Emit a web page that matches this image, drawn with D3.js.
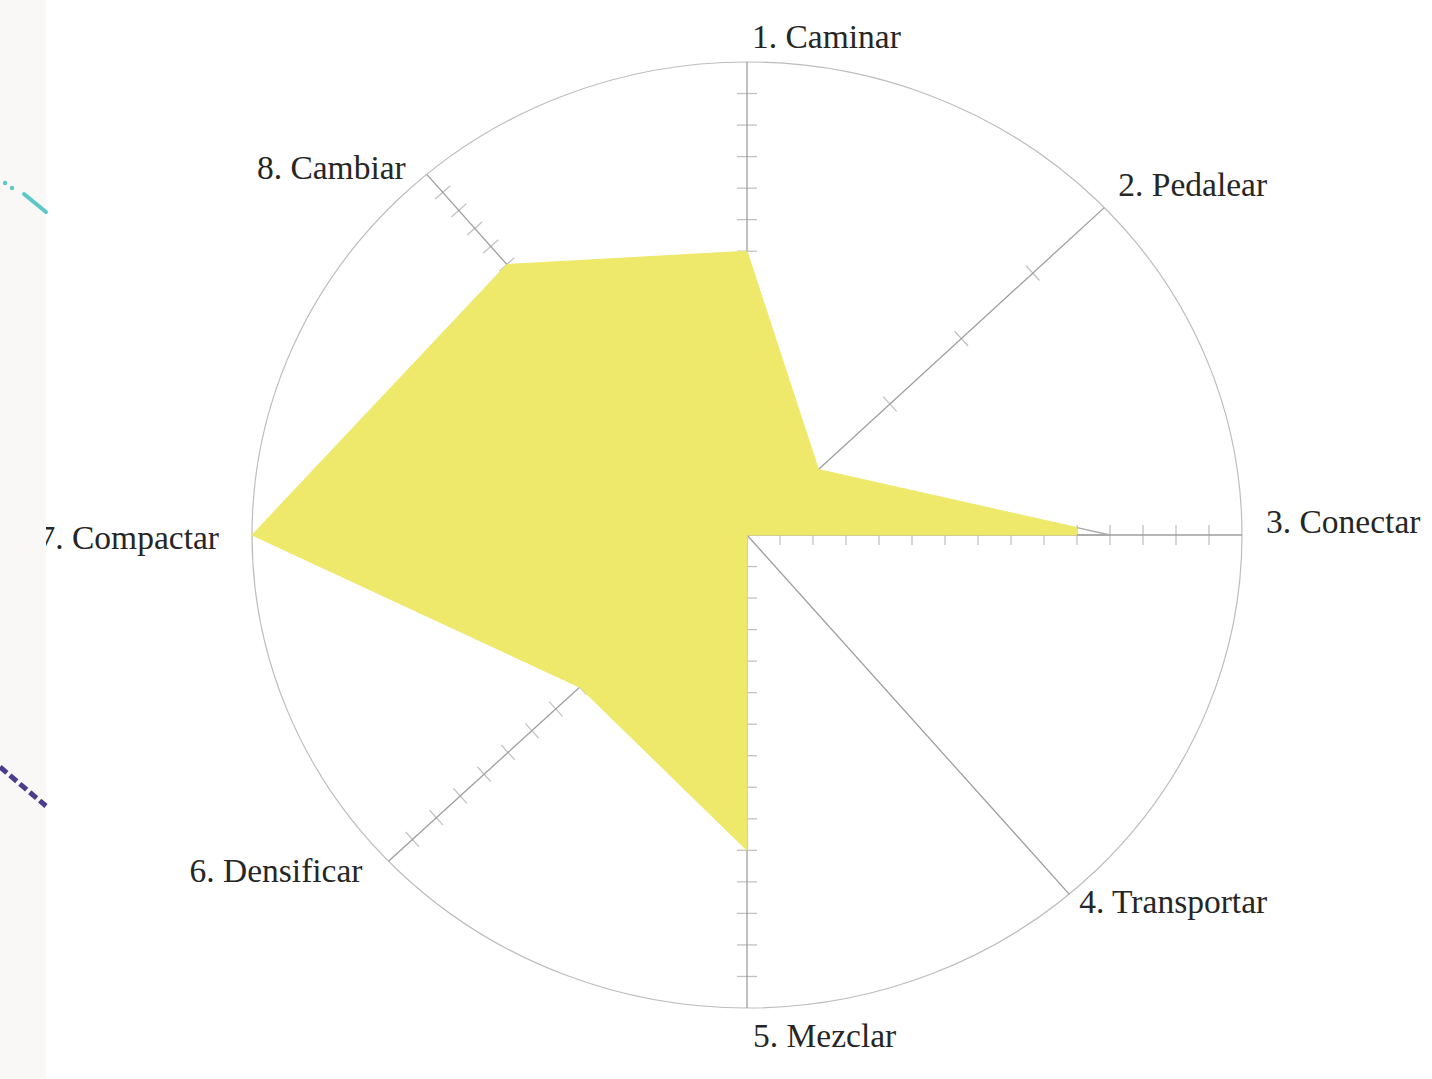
<!DOCTYPE html>
<html>
<head>
<meta charset="utf-8">
<script src="https://cdn.jsdelivr.net/npm/d3@7"></script>
<style>
  html, body { margin: 0; padding: 0; background: #ffffff; }
  svg { display: block; }
</style>
</head>
<body>
<svg id="chart" width="1432" height="1079"></svg>
<script>
// ---- data ----
const categories = ["1. Caminar", "2. Pedalear", "3. Conectar", "4. Transportar",
                    "5. Mezclar", "6. Densificar", "7. Compactar", "8. Cambiar"];
const values     = [9, 1, 11, 0, 10, 7, 15, 15];
const maxValues  = [15, 5, 15, 1, 15, 15, 15, 20];
const fillLimitConectar = 10;   // the yellow fill stops here on axis 3

// ---- layout ----
const W = 1432, H = 1079;
const cx = 747, cy = 535, rx = 495, ry = 473;
const axisAngles = [90, 42.5, 0, -48.1, -90, 222.3, 180, 131.6]; // degrees, y up
const labelOffsets = [[5, -14, "start"], [14, -12, "start"], [24, -2, "start"], [10, 19, "start"],
                      [6, 39, "start"], [-26, 21, "end"], [-33, 14, "end"], [-21, 5, "end"]];

const svg = d3.select("#chart");

function ellipseR(deg) {
  const a = deg * Math.PI / 180, c = Math.cos(a), s = Math.sin(a);
  return 1 / Math.sqrt(c * c / (rx * rx) + s * s / (ry * ry));
}
const axes = categories.map((name, i) => {
  const a = axisAngles[i] * Math.PI / 180;
  const R = ellipseR(axisAngles[i]);
  const scale = d3.scaleLinear().domain([0, maxValues[i]]).range([0, R]);
  return { name, i, ux: Math.cos(a), uy: -Math.sin(a), R, scale };
});
function pt(ax, v) { const r = ax.scale(v); return [cx + ax.ux * r, cy + ax.uy * r]; }

// outer ellipse
svg.append("ellipse").attr("cx", cx).attr("cy", cy).attr("rx", rx).attr("ry", ry)
  .attr("fill", "none").attr("stroke", "#bdbdbd").attr("stroke-width", 1.2);

// axes
const gAx = svg.append("g");
axes.forEach(ax => {
  const e = pt(ax, maxValues[ax.i]);
  const ticks = d3.range(1, maxValues[ax.i]);
  const px = -ax.uy, py = ax.ux, hl = 10;
  gAx.selectAll(null).data(ticks).join("line")
    .attr("x1", d => pt(ax, d)[0] - px * hl).attr("y1", d => pt(ax, d)[1] - py * hl)
    .attr("x2", d => pt(ax, d)[0] + px * hl).attr("y2", d => pt(ax, d)[1] + py * hl)
    .attr("stroke", "#c2c2c2").attr("stroke-width", 1.3);
  gAx.append("line").attr("x1", cx).attr("y1", cy).attr("x2", e[0]).attr("y2", e[1])
    .attr("stroke", "#9e9e9e").attr("stroke-width", 1.3);
});

// polygon
const polyPts = axes.map(ax => pt(ax, values[ax.i]));
const line = d3.line().curve(d3.curveLinearClosed);
const clipX = pt(axes[2], fillLimitConectar)[0];
const defs = svg.append("defs");
defs.append("clipPath").attr("id", "fillClip").append("rect")
  .attr("x", 0).attr("y", 0).attr("width", clipX).attr("height", H);
defs.append("clipPath").attr("id", "outClip").append("rect")
  .attr("x", clipX).attr("y", 0).attr("width", W - clipX).attr("height", H);

svg.append("path").attr("d", line(polyPts)).attr("fill", "none")
  .attr("stroke", "#a8a8a8").attr("stroke-width", 1.3).attr("clip-path", "url(#outClip)");
svg.append("path").attr("d", line(polyPts)).attr("fill", "#eee96a")
  .attr("stroke", "#eee96a").attr("stroke-width", 1).attr("clip-path", "url(#fillClip)");

// labels
axes.forEach(ax => {
  const e = pt(ax, maxValues[ax.i]);
  const o = labelOffsets[ax.i];
  svg.append("text").attr("x", e[0] + o[0]).attr("y", e[1] + o[1])
    .attr("text-anchor", o[2])
    .attr("font-family", "'Liberation Serif', 'Times New Roman', serif")
    .attr("font-size", 33.5).attr("fill", "#262626")
    .text(ax.name);
});

// left page strip (decorative)
const strip = svg.append("g");
strip.append("rect").attr("x", 0).attr("y", 0).attr("width", 46).attr("height", H).attr("fill", "#f9f8f6");
strip.append("circle").attr("cx", 5).attr("cy", 183).attr("r", 2.2).attr("fill", "#5cc9c8");
strip.append("circle").attr("cx", 12).attr("cy", 188).attr("r", 2.2).attr("fill", "#5cc9c8");
strip.append("line").attr("x1", 24).attr("y1", 194).attr("x2", 46).attr("y2", 212)
  .attr("stroke", "#5cc9c8").attr("stroke-width", 4).attr("stroke-linecap", "round");
strip.append("line").attr("x1", 0).attr("y1", 767).attr("x2", 46).attr("y2", 806)
  .attr("stroke", "#4b3c8c").attr("stroke-width", 5).attr("stroke-dasharray", "9 4");
</script>
</body>
</html>
